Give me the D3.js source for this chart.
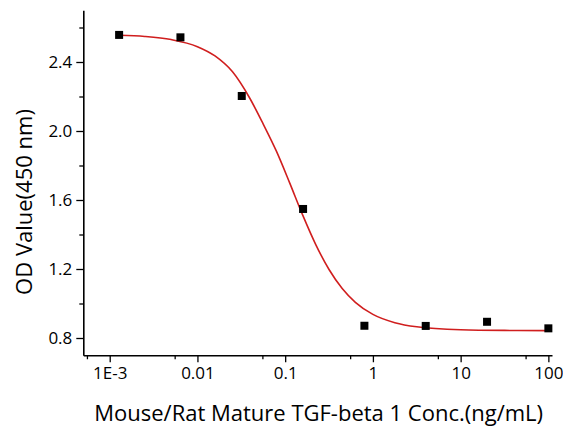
<!DOCTYPE html>
<html>
<head>
<meta charset="utf-8">
<script src="https://cdn.jsdelivr.net/npm/d3@7/dist/d3.min.js"></script>
<style>
  html, body { margin: 0; padding: 0; background: #fff; }
  svg { display: block; }
  text { font-family: "Open Sans", "Noto Sans", sans-serif; fill: #000; }
</style>
</head>
<body>
<svg id="chart" width="563" height="429"></svg>
<script>
// ---- data ----
const conc = [0.00128, 0.0064, 0.032, 0.16, 0.8, 4, 20, 100];
const od   = [2.557, 2.543, 2.203, 1.548, 0.871, 0.870, 0.894, 0.856];

// fitted curve
const fitX = [0.00128, 0.00251, 0.00501, 0.01, 0.01585, 0.02512, 0.03981, 0.05623, 0.07943, 0.1122, 0.1585, 0.2239, 0.3162, 0.4467, 0.631, 1, 1.778, 3.162, 10, 31.62, 100];
const fitY = [2.555, 2.548, 2.530, 2.489, 2.435, 2.343, 2.187, 2.040, 1.883, 1.701, 1.512, 1.340, 1.197, 1.087, 1.007, 0.937, 0.889, 0.865, 0.848, 0.844, 0.843];

const xTicks = [0.001, 0.01, 0.1, 1, 10, 100];
const xTickLabels = ["1E-3", "0.01", "0.1", "1", "10", "100"];
const xMinorTicks = [0.00055, 0.0055, 0.055, 0.55, 5.5, 55];
const yTicks = [0.8, 1.2, 1.6, 2.0, 2.4];
const yMinorTicks = [1.0, 1.4, 1.8, 2.2, 2.6];
const xTitle = "Mouse/Rat Mature TGF-beta 1 Conc.(ng/mL)";
const yTitle = "OD Value(450 nm)";

(function () {
// ---- layout ----
const svg = d3.select("#chart");
const pl = 83.3, pr = 552, pt = 10.25, pb = 355.25;

const x = d3.scaleLog().domain([0.0005, 110]).range([pl, pr]);
const y = d3.scaleLinear().domain([0.7, 2.7]).range([pb, pt]);

// minor ticks
svg.append("g")
  .attr("transform", `translate(0,${pb})`)
  .call(d3.axisBottom(x).tickValues(xMinorTicks).tickSize(4).tickSizeOuter(0).tickFormat(""))
  .call(g => g.select(".domain").remove())
  .selectAll("line").attr("stroke-width", 1.3);
svg.append("g")
  .attr("transform", `translate(${pl},0)`)
  .call(d3.axisLeft(y).tickValues(yMinorTicks).tickSize(4).tickSizeOuter(0).tickFormat(""))
  .call(g => g.select(".domain").remove())
  .selectAll("line").attr("stroke-width", 1.3);

// major axes
const gx = svg.append("g")
  .attr("transform", `translate(0,${pb})`)
  .call(d3.axisBottom(x).tickValues(xTicks).tickSize(7).tickSizeOuter(0).tickPadding(5)
        .tickFormat((d, i) => xTickLabels[i]));
const gy = svg.append("g")
  .attr("transform", `translate(${pl},0)`)
  .call(d3.axisLeft(y).tickValues(yTicks).tickSize(7).tickSizeOuter(0).tickPadding(4)
        .tickFormat(d3.format(".1f")));

[gx, gy].forEach(g => {
  g.select(".domain").attr("stroke", "#000").attr("stroke-width", 1.6);
  g.selectAll(".tick line").attr("stroke", "#000").attr("stroke-width", 1.3);
  g.selectAll(".tick text").attr("font-size", 17).attr("fill", "#000")
    .style("font-family", '"Open Sans", "Noto Sans", sans-serif');
});

// fitted curve
const fitData = fitX.map((v, i) => [v, fitY[i]]);
svg.append("path")
  .datum(fitData)
  .attr("fill", "none")
  .attr("stroke", "#d01e1e")
  .attr("stroke-width", 1.6)
  .attr("d", d3.line().x(d => x(d[0])).y(d => y(d[1])).curve(d3.curveMonotoneX));

// data points
const s = 8;
svg.append("g").selectAll("rect")
  .data(conc.map((c, i) => [c, od[i]]))
  .join("rect")
  .attr("x", d => x(d[0]) - s / 2)
  .attr("y", d => y(d[1]) - s / 2)
  .attr("width", s).attr("height", s)
  .attr("fill", "#000");

// axis titles
svg.append("text")
  .attr("x", (pl + pr) / 2 + 1)
  .attr("y", 420.5)
  .attr("text-anchor", "middle")
  .attr("font-size", 22)
  .text(xTitle);
svg.append("text")
  .attr("transform", "translate(32,202) rotate(-90)")
  .attr("text-anchor", "middle")
  .attr("font-size", 22)
  .text(yTitle);
})();
</script>
</body>
</html>
